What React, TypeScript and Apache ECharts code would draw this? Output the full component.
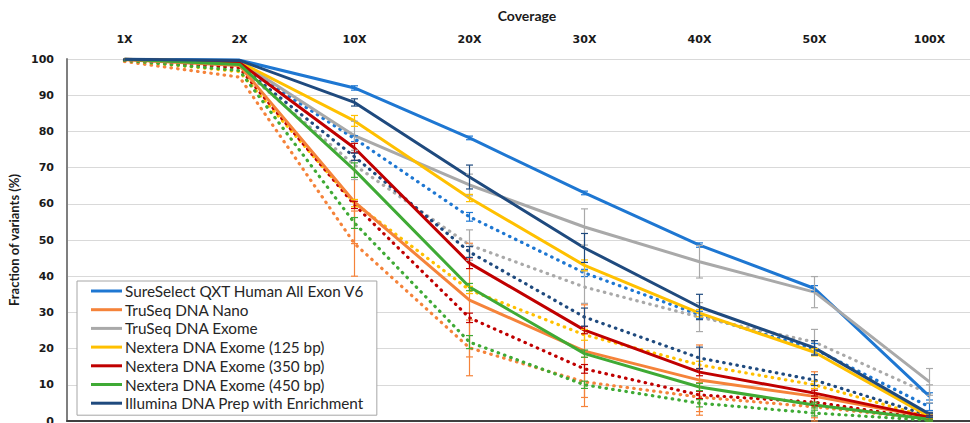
import React, { useEffect, useRef } from "react";
import * as echarts from "echarts";

// Coverage thresholds along the top axis
const coverage = ["1X", "2X", "10X", "20X", "30X", "40X", "50X", "100X"];

const libraryNames = [
  "SureSelect QXT Human All Exon V6",
  "TruSeq DNA Nano",
  "TruSeq DNA Exome",
  "Nextera DNA Exome (125 bp)",
  "Nextera DNA Exome (350 bp)",
  "Nextera DNA Exome (450 bp)",
  "Illumina DNA Prep with Enrichment",
];

const libraryColors = ["#1E77D2", "#F5833A", "#A9A9A9", "#FFC000", "#C00000", "#3FAA35", "#1F4A7E"];

// Fraction of variants (%) per coverage threshold — solid lines
const sureSelectSolid = [99.9, 99.7, 92.0, 78.2, 63.0, 48.6, 36.6, 6.8];
const truSeqNanoSolid = [99.8, 98.2, 60.5, 33.4, 19.3, 11.3, 6.8, 1.0];
const truSeqExomeSolid = [99.9, 99.3, 78.8, 65.2, 53.6, 44.0, 35.6, 10.8];
const nextera125Solid = [99.9, 99.2, 82.9, 61.6, 43.0, 29.8, 19.0, 1.2];
const nextera350Solid = [99.9, 99.0, 75.4, 43.6, 25.1, 13.5, 7.7, 1.0];
const nextera450Solid = [99.9, 98.5, 69.3, 37.0, 18.6, 9.4, 4.4, 0.5];
const illuminaPrepSolid = [99.9, 99.6, 88.0, 67.4, 47.8, 31.5, 20.2, 1.9];

// Fraction of variants (%) per coverage threshold — dotted lines
const sureSelectDotted = [99.8, 98.5, 78.0, 56.4, 40.9, 29.3, 19.9, 3.9];
const truSeqNanoDotted = [99.3, 95.0, 49.0, 20.2, 10.8, 6.6, 3.9, 0.5];
const truSeqExomeDotted = [99.8, 97.8, 70.7, 48.6, 37.0, 28.7, 21.8, 7.5];
const nextera125Dotted = [99.7, 96.5, 60.2, 36.2, 23.8, 15.5, 10.0, 1.0];
const nextera350Dotted = [99.7, 97.5, 59.7, 28.5, 14.4, 7.2, 5.2, 0.5];
const nextera450Dotted = [99.6, 96.8, 54.7, 21.8, 10.0, 4.9, 2.2, 0.2];
const illuminaPrepDotted = [99.8, 98.2, 73.0, 46.7, 28.7, 17.4, 11.3, 1.5];

// Error-bar half widths (percentage points)
const sureSelectSolidErr = [0, 0, 0.6, 0.5, 0.5, 0.6, 0.8, 1.0];
const truSeqNanoSolidErr = [0, 0, 11.5, 15.7, 12.8, 9.7, 6.8, 1.0];
const truSeqExomeSolidErr = [0, 0, 4.0, 3.0, 5.0, 4.5, 4.3, 3.7];
const nextera125SolidErr = [0, 0, 1.5, 1.0, 1.5, 1.0, 1.0, 0.5];
const nextera350SolidErr = [0, 0, 1.3, 1.5, 1.0, 1.0, 0.8, 0.5];
const nextera450SolidErr = [0, 0, 2.0, 1.0, 1.0, 1.0, 0.8, 0.5];
const illuminaPrepSolidErr = [0, 0, 1.0, 3.3, 4.0, 3.5, 2.0, 0.5];

const sureSelectDottedErr = [0, 0, 0.8, 1.2, 1.0, 1.0, 1.5, 1.0];
const truSeqNanoDottedErr = [0, 0, 9.0, 7.7, 6.8, 4.0, 3.0, 0.5];
const truSeqExomeDottedErr = [0, 0, 4.0, 4.2, 4.5, 4.0, 3.5, 2.5];
const nextera125DottedErr = [0, 0, 1.0, 1.0, 1.5, 1.0, 1.0, 0.5];
const nextera350DottedErr = [0, 0, 1.0, 1.3, 1.2, 1.0, 1.0, 0.5];
const nextera450DottedErr = [0, 0, 1.5, 1.8, 1.0, 1.0, 0.8, 0.3];
const illuminaPrepDottedErr = [0, 0, 1.0, 1.5, 2.5, 3.0, 1.5, 0.5];

const solidValues = [
  sureSelectSolid, truSeqNanoSolid, truSeqExomeSolid, nextera125Solid,
  nextera350Solid, nextera450Solid, illuminaPrepSolid,
];
const dottedValues = [
  sureSelectDotted, truSeqNanoDotted, truSeqExomeDotted, nextera125Dotted,
  nextera350Dotted, nextera450Dotted, illuminaPrepDotted,
];
const solidErrors = [
  sureSelectSolidErr, truSeqNanoSolidErr, truSeqExomeSolidErr, nextera125SolidErr,
  nextera350SolidErr, nextera450SolidErr, illuminaPrepSolidErr,
];
const dottedErrors = [
  sureSelectDottedErr, truSeqNanoDottedErr, truSeqExomeDottedErr, nextera125DottedErr,
  nextera350DottedErr, nextera450DottedErr, illuminaPrepDottedErr,
];

const yTicks = { min: 0, max: 100, interval: 10 };

function errorBarSeries(name: string, color: string, values: number[], errs: number[]) {
  const data = values
    .map((v, i) => (errs[i] > 0 ? [i, Math.max(0, v - errs[i]), Math.min(100, v + errs[i])] : null))
    .filter((d) => d !== null);
  return {
    name,
    type: "custom",
    z: 5,
    silent: true,
    encode: { x: 0, y: [1, 2] },
    data,
    renderItem: (_params: any, api: any) => {
      const x = api.value(0);
      const top = api.coord([x, api.value(2)]);
      const bot = api.coord([x, api.value(1)]);
      const hw = 3.5;
      const style = { stroke: color, lineWidth: 1.2, fill: "none" };
      return {
        type: "group",
        children: [
          { type: "line", shape: { x1: top[0], y1: top[1], x2: bot[0], y2: bot[1] }, style },
          { type: "line", shape: { x1: top[0] - hw, y1: top[1], x2: top[0] + hw, y2: top[1] }, style },
          { type: "line", shape: { x1: bot[0] - hw, y1: bot[1], x2: bot[0] + hw, y2: bot[1] }, style },
        ],
      };
    },
  };
}

function buildOption() {
  const series: any[] = [];
  libraryNames.forEach((name, k) => {
    series.push({
      name,
      type: "line",
      data: solidValues[k],
      showSymbol: false,
      z: 3,
      color: libraryColors[k],
      lineStyle: { width: 3, color: libraryColors[k] },
    });
  });
  libraryNames.forEach((name, k) => {
    series.push({
      name: name + " (dotted)",
      type: "line",
      data: dottedValues[k],
      showSymbol: false,
      z: 2,
      color: libraryColors[k],
      lineStyle: { width: 3.2, color: libraryColors[k], type: [0.5, 6.2], cap: "round" },
    });
  });
  libraryNames.forEach((name, k) => {
    series.push(errorBarSeries(name, libraryColors[k], solidValues[k], solidErrors[k]));
    series.push(errorBarSeries(name + " (dotted)", libraryColors[k], dottedValues[k], dottedErrors[k]));
  });

  return {
    animation: false,
    backgroundColor: "#ffffff",
    grid: { left: 67, right: -17, top: 59, bottom: 2, containLabel: false, outerBoundsMode: "none" },
    legend: {
      data: libraryNames,
      orient: "vertical",
      left: 77,
      top: 281,
      padding: [1, 12, 3, 14],
      borderColor: "#A6A6A6",
      borderWidth: 1,
      backgroundColor: "#ffffff",
      icon: "rect",
      itemWidth: 31,
      itemHeight: 3,
      itemGap: 0.7,
      selectedMode: false,
      textStyle: { fontFamily: "Lato", fontSize: 15.3, color: "#262626", lineHeight: 18, padding: [0, 0, 0, -2] },
      z: 10,
    },
    xAxis: {
      type: "category",
      position: "top",
      data: coverage,
      boundaryGap: true,
      name: "Coverage",
      nameLocation: "middle",
      nameGap: 37,
      nameTextStyle: { fontFamily: "Lato", fontWeight: "bold", fontSize: 14, color: "#1a1a1a" },
      axisLine: { show: true, lineStyle: { color: "#404040", width: 2 } },
      axisTick: { show: false },
      axisLabel: {
        margin: 14,
        fontFamily: "DejaVu Sans",
        fontWeight: "bold",
        fontSize: 11,
        color: "#1a1a1a",
      },
    },
    yAxis: {
      type: "value",
      min: yTicks.min,
      max: yTicks.max,
      interval: yTicks.interval,
      name: "Fraction of variants (%)",
      nameLocation: "middle",
      nameRotate: 90,
      nameGap: 41,
      nameTextStyle: { fontFamily: "Lato", fontWeight: "bold", fontSize: 13, color: "#1a1a1a" },
      axisLine: { show: true, lineStyle: { color: "#7F7F7F", width: 2 } },
      axisTick: { show: false },
      axisLabel: {
        margin: 13,
        fontFamily: "DejaVu Sans",
        fontWeight: "bold",
        fontSize: 11,
        color: "#1a1a1a",
      },
      splitLine: { show: true, lineStyle: { color: "#D9D9D9", width: 1 } },
    },
    series,
  };
}

export default function App() {
  const ref = useRef<HTMLDivElement>(null);
  useEffect(() => {
    if (!ref.current) return;
    const chart = echarts.init(ref.current, null, { renderer: "svg" });
    chart.setOption(buildOption() as any);
    return () => chart.dispose();
  }, []);
  return (
    <div
      ref={ref}
      style={{ position: "fixed", left: 0, top: 0, width: 970, height: 423, background: "#fff" }}
    />
  );
}
